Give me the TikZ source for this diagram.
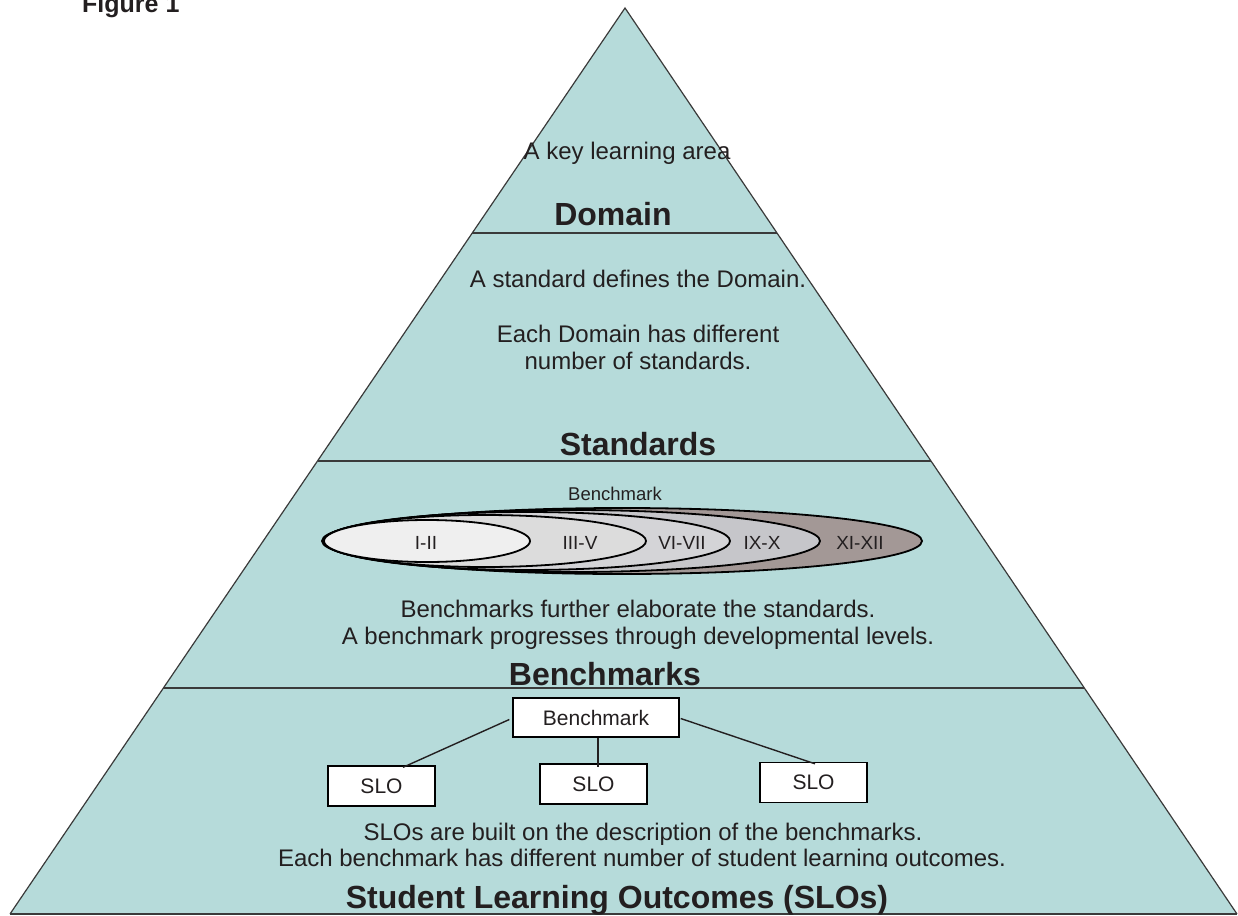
\documentclass[tikz,border=0pt]{standalone}
\usepackage{fontspec}
\setmainfont{Liberation Sans}
\definecolor{teal1}{HTML}{B6DBDA}
\definecolor{edge1}{HTML}{3A3A3A}
\definecolor{ellA}{HTML}{EFEFEF}
\definecolor{ellB}{HTML}{DCDCDC}
\definecolor{ellC}{HTML}{D4D4D7}
\definecolor{ellD}{HTML}{C6C6CA}
\definecolor{ellE}{HTML}{A39896}
\definecolor{txt}{HTML}{231F20}
\begin{document}
\begin{tikzpicture}[x=1pt,y=-1pt,
  reg/.style={font=\fontsize{24}{27}\selectfont, text=txt, inner sep=0pt, anchor=base},
  head/.style={font=\fontsize{32}{36}\selectfont\bfseries, text=txt, inner sep=0pt, anchor=base},
  smalltxt/.style={font=\fontsize{18.5}{22}\selectfont, text=txt, inner sep=0pt, anchor=base},
  lvltxt/.style={font=\fontsize{19}{22}\selectfont, text=txt, inner sep=0pt, anchor=base},
  boxtxt/.style={draw=black, line width=1.4pt, fill=white, font=\fontsize{21}{24}\selectfont, text=txt, inner sep=0pt},
  divider/.style={draw=edge1, line width=1.8pt},
  ell/.style={draw=black, line width=1.8pt},
  conn/.style={draw=txt, line width=1.4pt}]
\useasboundingbox (0,0) rectangle (1238,915);
% pyramid
\coordinate (apex) at (625,8);
\coordinate (bl) at (10,914);
\coordinate (br) at (1237,914);
\fill[teal1] (apex) -- (bl) -- (br) -- cycle;
\draw[edge1, line width=1.2pt, line join=miter] (bl) -- (apex) -- (br);
\draw[edge1, line width=2pt] (bl) -- (br);
% dividers
\coordinate (d1l) at (472.3,233); \coordinate (d1r) at (777.0,233);
\coordinate (d2l) at (317.5,461); \coordinate (d2r) at (931.0,461);
\coordinate (d3l) at (163.4,688); \coordinate (d3r) at (1084.4,688);
\draw[divider] (d1l) -- (d1r);
\draw[divider] (d2l) -- (d2r);
\draw[divider] (d3l) -- (d3r);
% title
\node[font=\fontsize{25}{28}\selectfont\bfseries, text=txt, inner sep=0pt, anchor=base west] (fig) at (82,13) {Figure 1};
% Domain
\node[reg] (keyarea) at (627,159) {A key learning area};
\node[head] (domain) at (613,225) {Domain};
% Standards
\node[reg] (std1) at (638,287) {A standard defines the Domain.};
\node[reg] (std2) at (638,342) {Each Domain has different};
\node[reg] (std3) at (638,369) {number of standards.};
\node[head] (standards) at (638,455) {Standards};
% Benchmarks
\node[smalltxt] (bmlabel) at (615,500) {Benchmark};
\fill[ellE] (622,541) ellipse [x radius=300, y radius=33];
\draw[ell] (622,541) ellipse [x radius=300, y radius=33];
\filldraw[ell, fill=ellD] (572,541) ellipse [x radius=248, y radius=31];
\filldraw[ell, fill=ellC] (527,541) ellipse [x radius=203, y radius=29];
\filldraw[ell, fill=ellB] (485,541) ellipse [x radius=161, y radius=26];
\filldraw[ell, fill=ellA] (427,541) ellipse [x radius=103, y radius=21];
\node[lvltxt] (lv1) at (426,549) {I-II};
\node[lvltxt] (lv2) at (580,549) {III-V};
\node[lvltxt] (lv3) at (682,549) {VI-VII};
\node[lvltxt] (lv4) at (762,549) {IX-X};
\node[lvltxt] (lv5) at (860,549) {XI-XII};
\node[reg] (bm1) at (638,617) {Benchmarks further elaborate the standards.};
\node[reg] (bm2) at (638,644) {A benchmark progresses through developmental levels.};
\node[head] (benchmarks) at (605,685) {Benchmarks};
% SLOs
\node[boxtxt, minimum width=166pt, minimum height=39pt] (bm) at (596,717.5) {Benchmark};
\node[boxtxt, minimum width=107pt, minimum height=40pt] (slo1) at (381.5,786) {SLO};
\node[boxtxt, minimum width=107pt, minimum height=40pt] (slo2) at (593.5,784) {SLO};
\node[boxtxt, minimum width=107pt, minimum height=40pt] (slo3) at (813.5,782.5) {SLO};
\draw[conn] ([xshift=-3pt,yshift=-2pt]bm.west) -- ([xshift=21.5pt,yshift=-2pt]slo1.north);
\draw[conn] ([xshift=2pt]bm.south) -- ([xshift=2pt,yshift=-4pt]bm.south |- slo2.north);
\draw[conn] ([xshift=1pt,yshift=-1pt]bm.east) -- ([xshift=1.5pt,yshift=-2pt]slo3.north);
\node[reg] (slo4) at (643,840) {SLOs are built on the description of the benchmarks.};
\begin{scope}
\clip (0,0) rectangle (1238,866.5);
\node[reg] (slo5) at (642,866) {Each benchmark has different number of student learning outcomes.};
\end{scope}
\node[head] (slotitle) at (617,908) {Student Learning Outcomes (SLOs)};
\end{tikzpicture}
\end{document}
